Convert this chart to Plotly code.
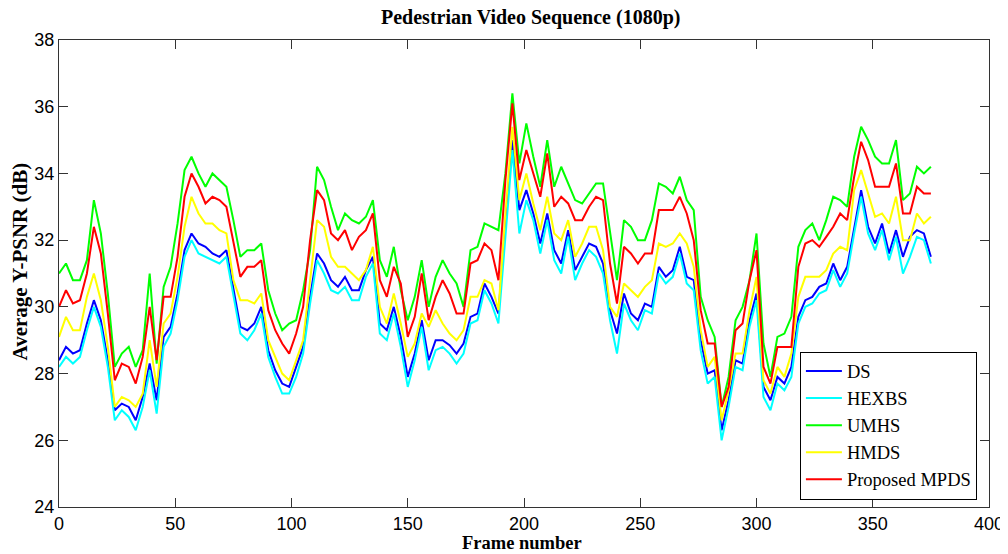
import plotly.graph_objects as go

frames = list(range(0, 376, 3))

ds = [28.4, 28.8, 28.6, 28.7, 29.5, 30.2, 29.6, 28.4, 26.9, 27.1,
      27.0, 26.6, 27.3, 28.3, 27.2, 29.1, 29.4, 30.4, 31.7, 32.2,
      31.9, 31.8, 31.6, 31.5, 31.7, 30.6, 29.4, 29.3, 29.5, 30.0,
      28.7, 28.1, 27.7, 27.6, 28.2, 28.8, 30.3, 31.6, 31.3, 30.8,
      30.6, 30.9, 30.5, 30.5, 31.1, 31.5, 29.5, 29.3, 30.0, 29.1,
      27.9, 28.6, 29.6, 28.4, 29.0, 29.0, 28.85, 28.6, 28.9, 29.7,
      29.8, 30.7, 30.3, 29.8, 32.5, 35.0, 32.9, 33.5, 32.8, 31.9,
      32.8, 31.7, 31.3, 32.3, 31.1, 31.5, 31.9, 31.8, 31.3, 29.9,
      29.2, 30.4, 29.8, 29.6, 30.1, 30.0, 31.2, 30.9, 31.1, 31.8,
      30.9, 30.8, 29.0, 28.0, 28.1, 26.3, 27.2, 28.4, 28.3, 29.6,
      30.4, 27.6, 27.2, 27.9, 27.7, 28.2, 29.7, 30.2, 30.3, 30.6,
      30.7, 31.3, 30.8, 31.2, 32.4, 33.5, 32.4, 31.9, 32.5, 31.6,
      32.3, 31.5, 32.1, 32.3, 32.2, 31.5]

hexbs = [28.2, 28.5, 28.3, 28.5, 29.3, 30.0, 29.4, 28.2, 26.6, 26.9,
         26.7, 26.3, 27.0, 28.1, 26.8, 28.8, 29.2, 30.2, 31.5, 32.0,
         31.6, 31.5, 31.4, 31.3, 31.5, 30.4, 29.2, 29.0, 29.3, 29.8,
         28.5, 27.9, 27.4, 27.4, 27.9, 28.6, 30.1, 31.4, 31.0, 30.5,
         30.4, 30.6, 30.2, 30.2, 30.9, 31.3, 29.2, 29.0, 29.8, 28.8,
         27.6, 28.4, 29.4, 28.1, 28.7, 28.8, 28.6, 28.3, 28.6, 29.5,
         29.6, 30.5, 30.1, 29.5, 32.2, 34.7, 32.2, 33.2, 32.6, 31.6,
         32.6, 31.4, 31.0, 32.1, 30.8, 31.3, 31.7, 31.5, 31.0, 29.6,
         28.6, 30.1, 29.6, 29.3, 29.9, 29.8, 31.0, 30.7, 30.9, 31.6,
         30.7, 30.5, 28.7, 27.7, 27.9, 26.0, 27.0, 28.2, 28.1, 29.4,
         30.2, 27.3, 26.9, 27.7, 27.5, 27.9, 29.5, 30.0, 30.1, 30.4,
         30.5, 31.1, 30.6, 31.0, 32.2, 33.3, 32.2, 31.7, 32.3, 31.4,
         32.1, 31.0, 31.5, 32.1, 32.0, 31.3]

umhs = [31.0, 31.3, 30.8, 30.8, 31.4, 33.2, 32.2, 30.4, 28.2, 28.6,
        28.8, 28.2, 28.7, 31.0, 28.3, 30.6, 31.2, 32.5, 34.1, 34.5,
        34.0, 33.6, 34.0, 33.8, 33.6, 32.6, 31.5, 31.7, 31.7, 31.9,
        30.5, 29.8, 29.3, 29.5, 29.6, 30.5, 31.7, 34.2, 33.8, 33.0,
        32.3, 32.8, 32.6, 32.5, 32.7, 33.2, 31.4, 30.9, 31.8, 30.5,
        29.6, 30.3, 31.4, 30.0, 30.9, 31.4, 31.0, 30.7, 30.0, 31.7,
        31.8, 32.5, 32.4, 32.3, 34.0, 36.4, 34.3, 35.5, 34.5, 33.6,
        35.0, 33.6, 34.2, 33.7, 33.2, 33.1, 33.4, 33.7, 33.7, 32.3,
        30.8, 32.6, 32.4, 32.0, 32.0, 32.6, 33.7, 33.6, 33.4, 33.9,
        33.2, 32.9, 30.3, 29.6, 29.1, 27.0, 27.9, 29.6, 30.0, 30.8,
        32.2, 28.9, 27.9, 29.1, 29.2, 29.7, 31.8, 32.3, 32.5, 32.0,
        32.6, 33.3, 33.2, 33.0, 34.5, 35.4, 35.0, 34.5, 34.3, 34.3,
        35.0, 33.2, 33.4, 34.2, 34.0, 34.2]

hmds = [29.1, 29.7, 29.3, 29.3, 30.3, 31.0, 30.2, 28.8, 27.0, 27.3,
        27.2, 27.0, 27.4, 29.0, 27.6, 29.5, 29.8, 30.9, 32.4, 33.3,
        32.8, 32.5, 32.5, 32.3, 32.2, 30.8, 30.2, 30.2, 30.1, 30.4,
        29.0, 28.5, 28.0, 27.8, 28.4, 29.0, 30.8, 32.6, 32.4, 31.5,
        31.2, 31.2, 31.0, 30.8, 31.1, 31.8, 30.0, 29.5, 30.4, 29.5,
        28.5, 28.9, 29.8, 29.4, 29.9, 29.5, 29.2, 29.0, 29.3, 30.3,
        30.3, 30.8, 30.7, 29.9, 32.8, 35.4, 33.2, 34.0, 33.1, 32.3,
        33.3, 32.2, 32.0, 32.6, 31.5, 31.9, 32.4, 32.4, 31.7, 30.0,
        29.7, 30.7, 30.5, 30.3, 30.6, 30.8, 31.9, 31.8, 31.9, 32.2,
        31.9, 31.2, 29.3, 28.2, 28.5, 26.6, 27.5, 28.6, 28.6, 29.9,
        30.9, 27.8, 27.4, 28.2, 27.9, 28.6, 30.3, 30.9, 30.9, 30.9,
        31.1, 31.6, 31.8, 31.7, 33.5, 34.1, 33.4, 32.7, 32.8, 32.5,
        33.3, 32.0, 32.0, 32.8, 32.5, 32.7]

mpds = [30.0, 30.5, 30.1, 30.2, 31.0, 32.4, 31.6, 29.8, 27.8, 28.3,
        28.2, 27.7, 28.5, 30.0, 28.4, 30.3, 30.3, 31.5, 33.3, 34.0,
        33.6, 33.1, 33.3, 33.2, 33.0, 32.0, 30.9, 31.2, 31.2, 31.4,
        29.9, 29.3, 28.9, 28.6, 29.2, 30.0, 32.0, 33.5, 33.2, 32.2,
        32.0, 32.3, 31.7, 32.1, 32.3, 32.8, 30.8, 30.3, 31.2, 30.7,
        29.1, 29.7, 31.0, 29.6, 30.3, 30.8, 30.4, 29.8, 29.8, 31.3,
        31.4, 31.9, 31.7, 30.8, 33.8, 36.1, 33.8, 34.7, 34.0, 33.3,
        34.6, 33.0, 33.3, 33.1, 32.6, 32.6, 33.0, 33.3, 33.2, 31.3,
        30.1, 31.8, 31.6, 31.3, 31.6, 31.6, 32.9, 32.9, 32.9, 33.3,
        32.8, 32.0, 29.9, 28.9, 28.9, 27.0, 27.6, 29.3, 29.5, 30.8,
        31.7, 28.2, 27.7, 28.8, 28.8, 28.8, 31.2, 31.9, 32.0, 31.8,
        32.1, 32.4, 32.8, 32.6, 33.9, 34.95, 34.4, 33.6, 33.6, 33.6,
        34.3, 32.8, 32.8, 33.6, 33.4, 33.4]

series_names = ["DS", "HEXBS", "UMHS", "HMDS", "Proposed MPDS"]
series_values = [ds, hexbs, umhs, hmds, mpds]
series_colors = ["#0000FF", "#00FFFF", "#00FF00", "#FFFF00", "#FF0000"]

x_ticks = [0, 50, 100, 150, 200, 250, 300, 350, 400]
y_ticks = [24, 26, 28, 30, 32, 34, 36, 38]

fig = go.Figure()
for name, vals, col in zip(series_names, series_values, series_colors):
    fig.add_trace(go.Scatter(x=frames, y=vals, mode="lines", name=name,
                             line=dict(color=col, width=2)))

axis_common = dict(showline=True, linecolor="#333333", linewidth=1,
                   mirror="allticks", ticks="inside", ticklen=9,
                   tickcolor="#333333", showgrid=False, zeroline=False,
                   tickfont=dict(family="Liberation Sans", size=18, color="black"))

fig.update_xaxes(range=[0, 400], tickmode="array", tickvals=x_ticks, **axis_common)
fig.update_yaxes(range=[24, 38], tickmode="array", tickvals=y_ticks, **axis_common)

# the page body adds an 8px offset; margins compensate so the plot area
# lands where the reference has it
fig.update_layout(
    width=1008, height=554,
    margin=dict(l=51, r=27, t=32, b=55),
    paper_bgcolor="white", plot_bgcolor="white",
    showlegend=True,
    legend=dict(x=0.987, xanchor="right", y=0.016, yanchor="bottom",
                bgcolor="white", bordercolor="black", borderwidth=1,
                font=dict(family="Liberation Serif", size=18.5, color="black"),
                itemwidth=36, tracegroupgap=0),
    annotations=[
        dict(text="<b>Pedestrian Video Sequence (1080p)</b>", xref="paper", yref="paper",
             x=0.507, y=1.049, xanchor="center", yanchor="middle", showarrow=False,
             font=dict(family="Liberation Serif", size=20, color="black")),
        dict(text="<b>Frame number</b>", xref="paper", yref="paper",
             x=0.498, y=-0.077, xanchor="center", yanchor="middle", showarrow=False,
             font=dict(family="Liberation Serif", size=18.5, color="black")),
        dict(text="<b>Average Y-PSNR (dB)</b>", xref="paper", yref="paper",
             x=-0.0419, y=0.526, xanchor="center", yanchor="middle", showarrow=False,
             textangle=-90,
             font=dict(family="Liberation Serif", size=21, color="black")),
    ],
)

fig.write_html("out.html")
